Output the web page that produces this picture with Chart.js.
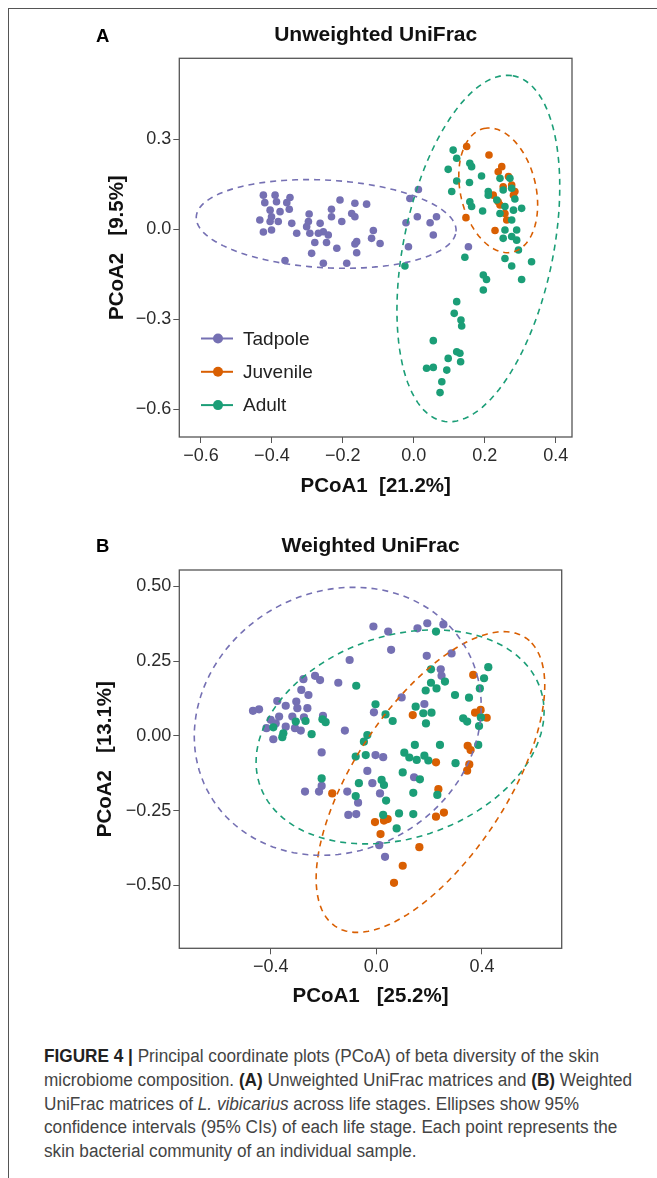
<!DOCTYPE html>
<html>
<head>
<meta charset="utf-8">
<script src="https://cdn.jsdelivr.net/npm/chart.js@4.4.0/dist/chart.umd.min.js"></script>
<style>
    body { margin: 0; background: #fff; }
    #page { position: relative; width: 657px; height: 1178px; overflow: hidden; }
    #frame { position: absolute; left: 8px; top: 8px; right: -2px; bottom: -2px;
             border-left: 1.5px solid #555; border-top: 1.5px solid #555; }
    .box { position: absolute; left: 0; width: 657px; height: 510px; }
    #caption { position: absolute; left: 44px; top: 1045px; color: #444;
               font-family: "Liberation Sans", Arial, sans-serif; transform-origin: 0 0;
               font-size: 17.6px; line-height: 23.8px; white-space: nowrap; }
    #caption b { color: #222; }
</style>
</head>
<body>
<div id="page">
    <div id="frame"></div>
    <div class="box" style="top:0"><canvas id="unweighted"></canvas></div>
    <div class="box" style="top:510px"><canvas id="weighted"></canvas></div>
    <div id="caption"><span class="ln"><b>FIGURE 4 |</b> Principal coordinate plots (PCoA) of beta diversity of the skin</span><br><span class="ln">microbiome composition. <b>(A)</b> Unweighted UniFrac matrices and <b>(B)</b> Weighted</span><br><span class="ln">UniFrac matrices of <i>L. vibicarius</i> across life stages. Ellipses show 95%</span><br><span class="ln">confidence intervals (95% CIs) of each life stage. Each point represents the</span><br><span class="ln">skin bacterial community of an individual sample.</span></div>
</div>
<script>
const groups = ['Tadpole', 'Juvenile', 'Adult'];
const colors = ['#7570b3', '#d95f02', '#1b9e77'];

// panel A : unweighted UniFrac, [PCoA1, PCoA2]
const tadpoleA = [[-0.420,0.089],[-0.424,0.114],[-0.387,0.092],[-0.391,0.114],[-0.349,0.106],[-0.358,0.089],
    [-0.351,0.067],[-0.377,0.059],[-0.405,0.064],[-0.401,0.042],[-0.434,0.031],[-0.405,0.026],[-0.382,0.026],
    [-0.344,0.020],[-0.424,-0.009],[-0.401,-0.002],[-0.330,-0.013],[-0.363,-0.104],[-0.295,0.051],[-0.297,0.026],
    [-0.302,0.009],[-0.293,-0.013],[-0.264,0.020],[-0.255,-0.008],[-0.269,-0.013],[-0.241,-0.019],[-0.232,0.067],
    [-0.208,0.098],[-0.232,0.042],[-0.203,0.026],[-0.175,0.053],[-0.166,0.042],[-0.166,0.087],[-0.133,0.084],
    [-0.114,-0.004],[-0.119,-0.030],[-0.095,-0.047],[-0.161,-0.041],[-0.166,-0.049],[-0.161,-0.078],[-0.217,-0.063],
    [-0.246,-0.044],[-0.279,-0.044],[-0.288,-0.080],[-0.255,-0.113],[-0.189,-0.113],[-0.011,0.103],[0.013,0.133],
    [0.010,0.042],[-0.022,0.022],[0.046,0.022],[0.064,0.042],[0.055,-0.019],[-0.015,-0.058],[0.154,-0.058]];
const juvenileA = [[0.149,0.276],[0.212,0.248],[0.248,0.209],[0.238,0.192],[0.267,0.176],[0.276,0.148],
    [0.285,0.126],[0.252,0.142],[0.224,0.114],[0.238,0.092],[0.243,0.081],[0.257,0.053],[0.262,0.031],
    [0.147,0.039],[0.229,-0.004],[0.281,0.114]];
const adultA = [[0.111,0.264],[0.121,0.237],[0.097,0.200],[0.158,0.220],[0.163,0.209],[0.121,0.161],
    [0.107,0.126],[0.157,0.156],[0.191,0.178],[0.210,0.126],[0.243,0.170],[0.271,0.170],[0.252,0.131],
    [0.276,0.137],[0.158,0.092],[0.163,0.076],[0.194,0.061],[0.210,0.114],[0.234,0.098],[0.285,0.101],
    [0.304,0.070],[0.281,0.064],[0.243,0.053],[0.276,0.031],[0.257,-0.002],[0.290,-0.002],[0.252,-0.030],
    [0.276,-0.024],[0.290,-0.036],[0.295,-0.069],[0.257,-0.097],[0.276,-0.122],[0.332,-0.108],[0.304,-0.167],
    [0.196,-0.152],[0.205,-0.167],[0.196,-0.202],[0.144,-0.093],[0.121,-0.241],[0.114,-0.280],[0.133,-0.302],
    [0.135,-0.322],[0.055,-0.371],[0.097,-0.430],[0.121,-0.408],[0.130,-0.413],[0.132,-0.441],[0.036,-0.463],
    [0.055,-0.460],[0.093,-0.469],[0.079,-0.508],[0.074,-0.544],[-0.025,-0.122],[0.257,0.076]];
// ellipse: centre x, centre y, semi-axis a, semi-axis b, angle (deg)
const ellipseA = [[-0.247,0.018,0.367,0.146,-3.9],[0.238,0.130,0.210,0.107,99.6],[0.182,-0.064,0.584,0.212,80.7]];
const xTicksA = [-0.6, -0.4, -0.2, 0, 0.2, 0.4];
const xLabelsA = ['\u22120.6', '\u22120.4', '\u22120.2', '0.0', '0.2', '0.4'];
const yTicksA = [-0.6, -0.3, 0, 0.3];
const yLabelsA = ['\u22120.6', '\u22120.3', '0.0', '0.3'];

// panel B : weighted UniFrac
const tadpoleB = [[-0.467,0.084],[-0.444,0.089],[-0.375,0.117],[-0.343,0.101],[-0.303,0.115],[-0.299,0.093],
    [-0.261,0.093],[-0.368,0.065],[-0.400,0.054],[-0.318,0.065],[-0.274,0.062],[-0.202,0.067],[-0.416,0.026],
    [-0.343,0.031],[-0.308,0.026],[-0.286,0.018],[-0.390,-0.011],[-0.381,0.042],[-0.284,0.154],[-0.257,0.137],
    [-0.276,0.190],[-0.232,0.201],[-0.213,0.187],[-0.144,0.178],[-0.101,0.254],[-0.119,0.018],[-0.207,-0.055],
    [-0.009,0.079],[-0.270,-0.186],[-0.217,-0.186],[-0.207,-0.167],[-0.110,-0.186],[-0.069,-0.223],[-0.106,-0.264],
    [-0.076,-0.261],[-0.034,-0.117],[-0.015,-0.158],[-0.003,-0.064],[0.026,-0.071],[0.014,-0.192],[0.011,-0.365],
    [0.033,-0.404],[0.096,0.129],[0.182,0.107],[0.143,-0.138],[-0.011,0.366],[0.045,0.349],[0.056,0.288],
    [0.156,0.360],[0.193,0.377],[0.254,0.373],[0.191,0.268],[0.285,0.276],[0.244,0.223],[0.247,0.201]];
const juvenileB = [[0.367,0.204],[0.138,0.070],[0.374,0.078],[0.395,0.087],[0.418,0.061],[0.346,-0.033],
    [0.357,-0.047],[0.352,-0.095],[0.344,-0.116],[0.226,-0.088],[0.235,-0.178],[0.256,-0.256],[0.226,-0.270],
    [-0.005,-0.288],[0.029,-0.283],[0.043,-0.278],[0.016,-0.328],[0.163,-0.372],[0.100,-0.434],[0.067,-0.491],
    [-0.167,-0.192]];
const adultB = [[-0.076,0.168],[-0.204,0.056],[-0.192,0.046],[-0.245,0.006],[-0.352,0.009],[-0.356,-0.004],
    [-0.390,0.029],[-0.268,0.050],[-0.305,0.048],[-0.207,-0.142],[-0.078,-0.201],[-0.066,-0.158],[-0.078,-0.069],
    [-0.040,-0.064],[-0.034,0.003],[-0.047,-0.019],[-0.003,0.106],[0.035,0.072],[0.062,0.050],[0.226,0.349],
    [0.207,0.223],[0.424,0.230],[0.408,0.193],[0.392,0.159],[0.207,0.178],[0.228,0.159],[0.260,0.182],
    [0.187,0.152],[0.298,0.137],[0.351,0.128],[0.149,0.098],[0.178,0.076],[0.209,0.078],[0.188,0.042],
    [0.329,0.059],[0.344,0.048],[0.389,0.033],[0.396,0.062],[0.146,-0.030],[0.241,-0.030],[0.106,-0.056],
    [0.125,-0.072],[0.153,-0.080],[0.182,-0.066],[0.197,-0.082],[0.386,-0.030],[0.300,-0.091],[0.100,-0.122],
    [0.165,-0.145],[0.020,-0.147],[0.029,-0.164],[0.037,-0.216],[0.140,-0.190],[0.231,-0.197],[0.026,-0.264],
    [0.086,-0.259],[0.140,-0.261],[0.077,-0.309]];
const ellipseB = [[-0.146,0.049,0.550,0.440,15],[0.205,-0.154,0.603,0.277,51.6],[0.090,-0.003,0.556,0.341,14.3]];
const xTicksB = [-0.4, 0, 0.4];
const xLabelsB = ['\u22120.4', '0.0', '0.4'];
const yTicksB = [-0.5, -0.25, 0, 0.25, 0.5];
const yLabelsB = ['\u22120.50', '\u22120.25', '0.00', '0.25', '0.50'];

const fontFamily = "'Liberation Sans', Arial, sans-serif";
Chart.defaults.font.family = fontFamily;

function ellipsePath(e) {
    const [cx, cy, a, b, deg] = e;
    const th = deg * Math.PI / 180;
    const pts = [];
    for (let i = 0; i <= 120; i++) {
        const t = 2 * Math.PI * i / 120;
        pts.push({
            x: cx + a * Math.cos(t) * Math.cos(th) - b * Math.sin(t) * Math.sin(th),
            y: cy + a * Math.cos(t) * Math.sin(th) + b * Math.sin(t) * Math.cos(th)
        });
    }
    return pts;
}

const framePlugin = {
    id: 'frame',
    afterDraw(chart, args, opts) {
        const {ctx, chartArea: ca} = chart;
        ctx.save();
        ctx.strokeStyle = '#555';
        ctx.lineWidth = 1.3;
        ctx.strokeRect(ca.left, ca.top, ca.right - ca.left, ca.bottom - ca.top);
        ctx.fillStyle = '#000';
        ctx.font = 'bold 18.5px ' + fontFamily;
        ctx.textBaseline = 'middle';
        ctx.fillText(opts.panel, 96, opts.panelY);
        ctx.restore();
    }
};

const legendPlugin = {
    id: 'innerLegend',
    afterDraw(chart) {
        const ctx = chart.ctx;
        ctx.save();
        ctx.font = '19px ' + fontFamily;
        ctx.textBaseline = 'middle';
        groups.forEach((g, i) => {
            const y = 338.5 + i * 33.3;
            ctx.strokeStyle = colors[i];
            ctx.lineWidth = 2;
            ctx.beginPath();
            ctx.moveTo(201, y);
            ctx.lineTo(233, y);
            ctx.stroke();
            ctx.fillStyle = colors[i];
            ctx.beginPath();
            ctx.arc(218, y, 5, 0, 2 * Math.PI);
            ctx.fill();
            ctx.fillStyle = '#222';
            ctx.fillText(g, 243, y + 1);
        });
        ctx.restore();
    }
};

function makeChart(id, cfg) {
    const datasets = [];
    cfg.points.forEach((pts, i) => {
        datasets.push({
            label: groups[i],
            data: pts.map(p => ({x: p[0], y: p[1]})),
            backgroundColor: colors[i],
            borderWidth: 0,
            pointRadius: cfg.radius,
            order: 5 - i
        });
    });
    cfg.ellipses.forEach((e, i) => {
        datasets.push({
            label: groups[i] + ' 95% CI',
            data: ellipsePath(e),
            showLine: true,
            borderColor: colors[i],
            borderWidth: 1.6,
            borderDash: [6, 5],
            pointRadius: 0,
            fill: false,
            order: 1
        });
    });

    const axis = (min, max, ticks, labels, title, pad, size, isX) => ({
        type: 'linear',
        min: min,
        max: max,
        afterBuildTicks: s => { s.ticks = ticks.map(v => ({value: v})); },
        afterFit: s => { if (isX) s.height = size; else s.width = size; },
        ticks: {
            autoSkip: false,
            maxRotation: 0,
            padding: 2,
            color: '#2b2b2b',
            font: {size: 18},
            callback: (v, i) => labels[i]
        },
        grid: {drawOnChartArea: false, drawTicks: true, tickLength: 6, color: '#555', lineWidth: 1},
        border: {display: false},
        title: {
            display: true,
            text: title,
            color: '#111',
            font: {size: 20.5, weight: 'bold'},
            padding: isX ? {top: 0, bottom: pad} : {top: pad, bottom: 0}
        }
    });

    return new Chart(document.getElementById(id), {
        type: 'scatter',
        data: {datasets: datasets},
        plugins: cfg.legend ? [framePlugin, legendPlugin] : [framePlugin],
        options: {
            responsive: true,
            maintainAspectRatio: false,
            animation: false,
            events: [],
            layout: {padding: {left: 0, right: cfg.right, top: 10, bottom: 0}},
            scales: {
                x: axis(cfg.xMin, cfg.xMax, cfg.xTicks, cfg.xLabels, cfg.xTitle, cfg.xTitlePad, cfg.xHeight, true),
                y: axis(cfg.yMin, cfg.yMax, cfg.yTicks, cfg.yLabels, cfg.yTitle, cfg.yTitlePad, 179.3, false)
            },
            plugins: {
                legend: {display: false},
                tooltip: {enabled: false},
                title: {
                    display: true,
                    text: cfg.title,
                    fullSize: false,
                    color: '#111',
                    font: {size: 21, weight: 'bold'},
                    padding: cfg.titlePad
                },
                frame: {panel: cfg.panel, panelY: cfg.panelY}
            }
        }
    });
}

makeChart('unweighted', {
    panel: 'A', panelY: 37, title: 'Unweighted UniFrac', titlePad: {top: 13.1, bottom: 10},
    points: [tadpoleA, juvenileA, adultA], ellipses: ellipseA, radius: 3.8, legend: true,
    xMin: -0.661, xMax: 0.446, xTicks: xTicksA, xLabels: xLabelsA,
    yMin: -0.692, yMax: 0.570, yTicks: yTicksA, yLabels: yLabelsA,
    xTitle: 'PCoA1  [21.2%]', yTitle: 'PCoA2   [9.5%]',
    xTitlePad: 11.2, yTitlePad: 104.7, xHeight: 73, right: 85
});

makeChart('weighted', {
    panel: 'B', panelY: 36.5, title: 'Weighted UniFrac', titlePad: {top: 14.1, bottom: 10.7},
    points: [tadpoleB, juvenileB, adultB], ellipses: ellipseB, radius: 4.1, legend: false,
    xMin: -0.746, xMax: 0.702, xTicks: xTicksB, xLabels: xLabelsB,
    yMin: -0.710, yMax: 0.555, yTicks: yTicksB, yLabels: yLabelsB,
    xTitle: 'PCoA1   [25.2%]', yTitle: 'PCoA2   [13.1%]',
    xTitlePad: 11.0, yTitlePad: 93.2, xHeight: 71.7, right: 95.3
});

// the caption face is condensed; squeeze the text so line 2 spans the same width as in the figure
const caption = document.getElementById('caption');
const lineW = caption.querySelectorAll('.ln')[1].getBoundingClientRect().width;
caption.style.transform = 'scaleX(' + (588 / lineW).toFixed(3) + ')';
</script>
</body>
</html>
